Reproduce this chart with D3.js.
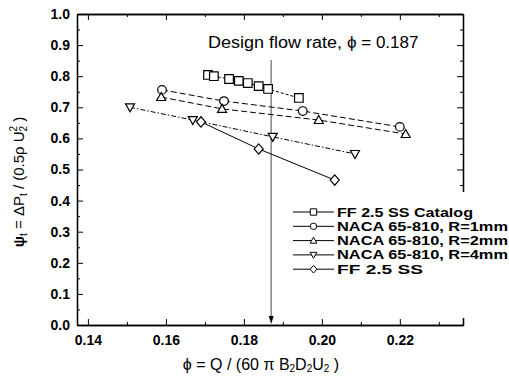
<!DOCTYPE html>
<html>
<head>
<meta charset="utf-8">
<script src="https://cdn.jsdelivr.net/npm/d3@7"></script>
<style>
  html, body { margin: 0; padding: 0; background: #fff; }
  svg { display: block; }
  text { font-family: "Liberation Sans", Arial, sans-serif; fill: #000; }
</style>
</head>
<body>
<svg id="chart" width="509" height="376"></svg>
<script>
// Flow coefficient (phi) and total pressure coefficient (psi) for each impeller
const phiCatalog = [0.1708, 0.1723, 0.1762, 0.1787, 0.1810, 0.1838, 0.1862, 0.1941];
const psiCatalog = [0.804, 0.800, 0.791, 0.785, 0.778, 0.768, 0.759, 0.730];

const phiR1 = [0.1590, 0.1749, 0.1951, 0.2200];
const psiR1 = [0.756, 0.720, 0.688, 0.637];

const phiR2 = [0.1588, 0.1744, 0.1992, 0.2215];
const psiR2 = [0.733, 0.695, 0.659, 0.614];

const phiR4 = [0.1508, 0.1669, 0.1874, 0.2085];
const psiR4 = [0.700, 0.659, 0.605, 0.550];

const phiFF = [0.1690, 0.1838, 0.2033];
const psiFF = [0.653, 0.566, 0.466];

const seriesNames = ["FF 2.5 SS Catalog", "NACA 65-810, R=1mm", "NACA 65-810, R=2mm", "NACA 65-810, R=4mm", "FF 2.5 SS"];

const xTicks = [0.14, 0.16, 0.18, 0.20, 0.22];
const xMinor = [0.15, 0.17, 0.19, 0.21, 0.23];
const yTicks = [0.0, 0.1, 0.2, 0.3, 0.4, 0.5, 0.6, 0.7, 0.8, 0.9, 1.0];
const yMinor = [0.05, 0.15, 0.25, 0.35, 0.45, 0.55, 0.65, 0.75, 0.85, 0.95];

const designPhi = 0.187;

const series = [
  { name: seriesNames[0], phi: phiCatalog, psi: psiCatalog, symbol: "square",   dash: "3,2" },
  { name: seriesNames[1], phi: phiR1,      psi: psiR1,      symbol: "circle",   dash: "6,3" },
  { name: seriesNames[2], phi: phiR2,      psi: psiR2,      symbol: "triUp",    dash: "6,3" },
  { name: seriesNames[3], phi: phiR4,      psi: psiR4,      symbol: "triDown",  dash: "5,2,1.5,2" },
  { name: seriesNames[4], phi: phiFF,      psi: psiFF,      symbol: "diamond",  dash: null }
];

const L = 77, R = 463, T = 14, B = 325;
const svg = d3.select("#chart");

const x = d3.scaleLinear().domain([0.1372, 0.2362]).range([L, R]);
const y = d3.scaleLinear().domain([0, 1]).range([B, T]);

// symbol path builder (s = half-width in px)
function symbolPath(kind, s) {
  switch (kind) {
    case "square":  return `M${-s},${-s}H${s}V${s}H${-s}Z`;
    case "circle":  return `M${s},0A${s},${s} 0 1,1 ${-s},0A${s},${s} 0 1,1 ${s},0Z`;
    case "triUp":   return `M0,${-s*1.05}L${s*1.05},${s*0.8}H${-s*1.05}Z`;
    case "triDown": return `M0,${s*1.05}L${s*1.05},${-s*0.8}H${-s*1.05}Z`;
    case "diamond": return `M0,${-s*1.2}L${s*1.05},0L0,${s*1.2}L${-s*1.05},0Z`;
  }
}

// axes: ticks point into the frame on all four sides
const fmt = d3.format(".2f");
svg.append("g").attr("transform", `translate(0,${B})`)
  .call(d3.axisBottom(x).tickValues(xTicks).tickFormat(fmt).tickSizeInner(-6).tickSizeOuter(0).tickPadding(10));
svg.append("g").attr("transform", `translate(0,${B})`)
  .call(d3.axisBottom(x).tickValues(xMinor).tickFormat("").tickSizeInner(-3).tickSizeOuter(0));
svg.append("g").attr("transform", `translate(0,${T})`)
  .call(d3.axisTop(x).tickValues(xTicks).tickFormat("").tickSizeInner(-6).tickSizeOuter(0));
svg.append("g").attr("transform", `translate(0,${T})`)
  .call(d3.axisTop(x).tickValues(xMinor).tickFormat("").tickSizeInner(-3).tickSizeOuter(0));

svg.append("g").attr("transform", `translate(${L},0)`)
  .call(d3.axisLeft(y).tickValues(yTicks).tickFormat(d3.format(".1f")).tickSizeInner(-6).tickSizeOuter(0).tickPadding(7));
svg.append("g").attr("transform", `translate(${L},0)`)
  .call(d3.axisLeft(y).tickValues(yMinor).tickFormat("").tickSizeInner(-3).tickSizeOuter(0));
svg.append("g").attr("transform", `translate(${R},0)`)
  .call(d3.axisRight(y).tickValues(yTicks).tickFormat("").tickSizeInner(-6).tickSizeOuter(0));
svg.append("g").attr("transform", `translate(${R},0)`)
  .call(d3.axisRight(y).tickValues(yMinor).tickFormat("").tickSizeInner(-3).tickSizeOuter(0));

svg.selectAll(".domain").attr("stroke", "#000").attr("stroke-width", 1.3);
svg.selectAll(".tick line").attr("stroke", "#000").attr("stroke-width", 1);
svg.selectAll(".tick text")
  .attr("font-family", "'Liberation Sans', Arial, sans-serif")
  .attr("font-size", 14).attr("font-weight", "bold").attr("fill", "#000");

// design flow rate marker
svg.append("line")
  .attr("x1", x(designPhi)).attr("x2", x(designPhi))
  .attr("y1", 60).attr("y2", B - 4)
  .attr("stroke", "#8c8c8c").attr("stroke-width", 1.6);
svg.append("path")
  .attr("d", `M${x(designPhi)},${B - 1}l-2.5,-8h5z`)
  .attr("fill", "#000");

svg.append("text").attr("x", 208).attr("y", 48)
  .attr("font-size", 16).attr("font-weight", "500")
  .attr("textLength", 134).attr("lengthAdjust", "spacingAndGlyphs")
  .text("Design flow rate,");
svg.append("text").attr("x", 347).attr("y", 48)
  .attr("font-family", "'Liberation Serif', 'Times New Roman', serif").attr("font-size", 17)
  .text("\u03D5 = 0.187");

// series lines and markers
const line = d3.line().x(d => x(d[0])).y(d => y(d[1]));
series.forEach(s => {
  const pts = s.phi.map((p, i) => [p, s.psi[i]]);
  svg.append("path").datum(pts)
    .attr("d", line).attr("fill", "none")
    .attr("stroke", "#000").attr("stroke-width", 1)
    .attr("stroke-dasharray", s.dash);
  svg.append("g").selectAll("path").data(pts).join("path")
    .attr("transform", d => `translate(${x(d[0])},${y(d[1])})`)
    .attr("d", symbolPath(s.symbol, 4.3))
    .attr("fill", "#fff").attr("stroke", "#000").attr("stroke-width", 1.2);
});

// legend on an opaque white panel that covers the right frame edge
svg.append("rect").attr("x", 288).attr("y", 192).attr("width", 221).attr("height", 126)
  .attr("fill", "#fff");
const legendWidths = [136, 171, 171, 171, 86];
const legend = svg.append("g");
series.forEach((s, i) => {
  const ly = 212 + i * 14.3;
  const g = legend.append("g").attr("transform", `translate(0,${ly})`);
  g.append("line").attr("x1", 293).attr("x2", 334).attr("y1", 0).attr("y2", 0)
    .attr("stroke", "#000").attr("stroke-width", 1);
  g.append("path").attr("transform", "translate(313.5,0)")
    .attr("d", symbolPath(s.symbol, 3.2))
    .attr("fill", "#fff").attr("stroke", "#000").attr("stroke-width", 1);
  g.append("text").attr("x", 337).attr("y", 4.5).text(s.name)
    .attr("font-size", 12).attr("font-weight", "bold")
    .attr("textLength", legendWidths[i]).attr("lengthAdjust", "spacingAndGlyphs");
});

// axis titles
const xt = svg.append("text").attr("x", 261).attr("y", 370).attr("text-anchor", "middle").attr("font-size", 16);
xt.append("tspan").text("\u03D5 = Q / (60 \u03C0 B");
xt.append("tspan").text("2").attr("font-size", 10).attr("dy", 2);
xt.append("tspan").text("D").attr("dy", -2);
xt.append("tspan").text("2").attr("font-size", 10).attr("dy", 2);
xt.append("tspan").text("U").attr("dy", -2);
xt.append("tspan").text("2").attr("font-size", 10).attr("dy", 2);
xt.append("tspan").text(" )").attr("dy", -2);

const yt = svg.append("text").attr("transform", "translate(24,182) rotate(-90)")
  .attr("text-anchor", "middle").attr("font-size", 15);
yt.append("tspan").text("\u03C8").attr("font-weight", "bold");
yt.append("tspan").text("t").attr("font-size", 10).attr("dy", 3);
yt.append("tspan").text(" = \u0394P").attr("dy", -3);
yt.append("tspan").text("t").attr("font-size", 10).attr("dy", 3);
yt.append("tspan").text(" / (0.5\u03C1 U").attr("dy", -3);
yt.append("tspan").text("2").attr("font-size", 10).attr("dy", 3);
yt.append("tspan").text("2").attr("font-size", 10).attr("dx", -5.6).attr("dy", -10);
yt.append("tspan").text(" )").attr("dy", 7);
</script>
</body>
</html>
